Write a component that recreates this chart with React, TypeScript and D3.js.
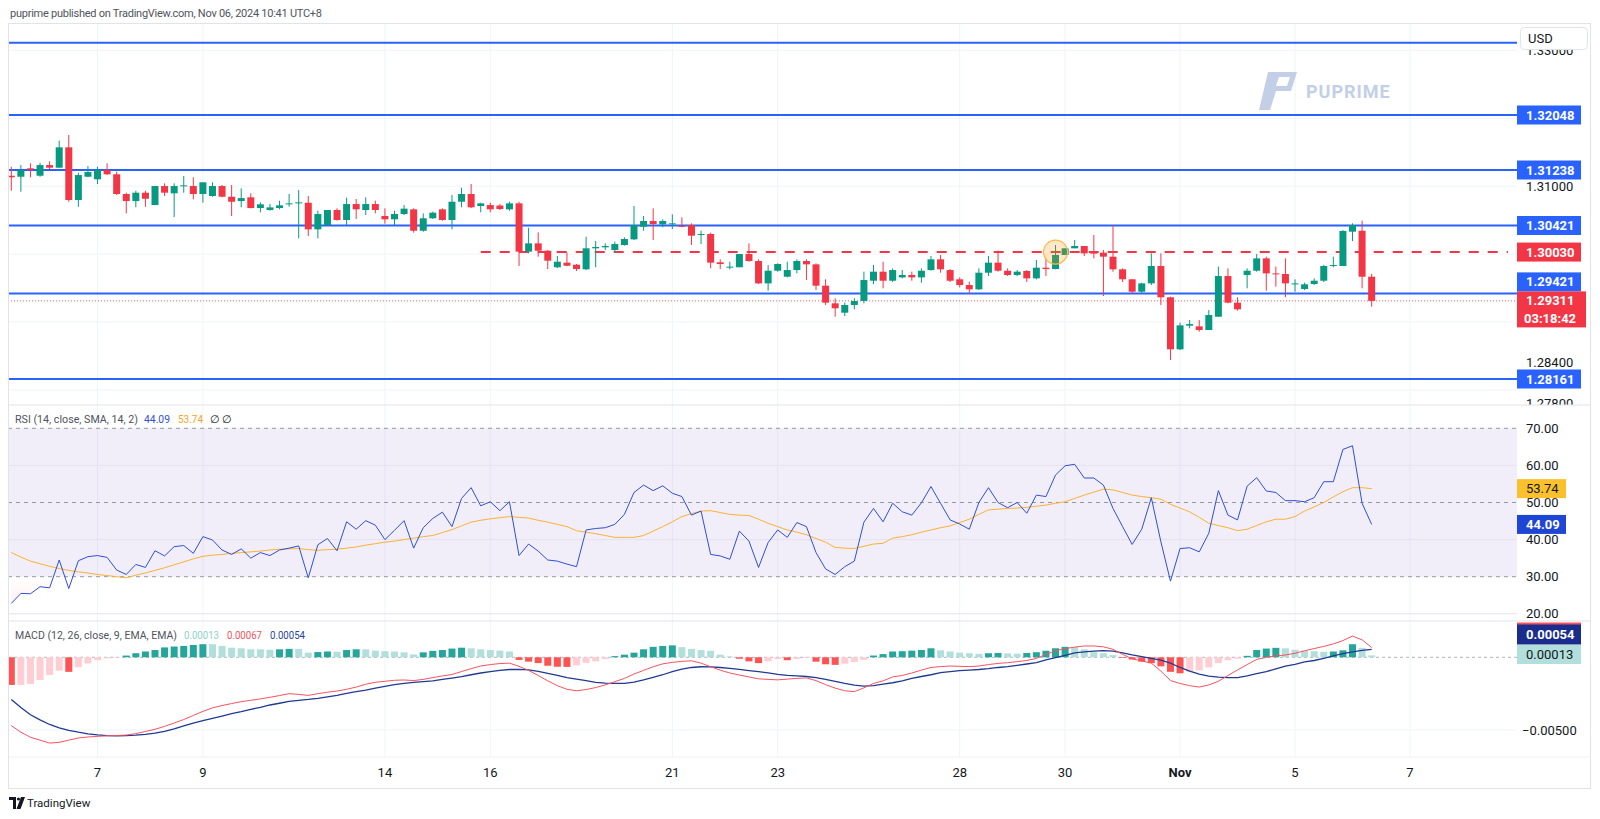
import React from "react";
import * as d3 from "d3";

// time axis (candle index of the first 4h bar of each labelled day)
const tickIdx = [9, 20, 39, 50, 69, 80, 99, 110, 122, 134, 146];
const tickLabels = ["7", "9", "14", "16", "21", "23", "28", "30", "Nov", "5", "7"];

// GBPUSD 4h candles
const open = [1.31154,1.31139,1.31263,1.31154,1.31311,1.31272,1.31572,1.30796,1.31139,1.31101,1.31238,1.31175,1.30885,1.30781,1.30904,1.30722,1.31002,1.30895,1.31002,1.31002,1.30885,1.30855,1.31002,1.30845,1.30781,1.30836,1.30678,1.30649,1.30678,1.30733,1.30747,1.30756,1.30364,1.30428,1.30649,1.30502,1.30737,1.30649,1.30737,1.30561,1.30512,1.3059,1.30659,1.30344,1.30527,1.30659,1.30502,1.30771,1.30885,1.30708,1.30722,1.30715,1.30659,1.30747,1.30036,1.30158,1.3005,1.29806,1.29874,1.29844,1.29776,1.30085,1.301,1.3006,1.30134,1.30217,1.30403,1.30487,1.30438,1.30438,1.30418,1.30428,1.30281,1.30296,1.29879,1.298,1.29806,1.30001,1.29898,1.29569,1.29755,1.29667,1.29765,1.29898,1.29849,1.29535,1.29275,1.29137,1.29251,1.2931,1.29608,1.29741,1.29608,1.29657,1.29692,1.29657,1.29765,1.29923,1.29765,1.29629,1.29545,1.29481,1.29726,1.29874,1.29755,1.29692,1.29751,1.29643,1.298,1.2978,1.29987,1.30085,1.30119,1.30021,1.30021,1.29962,1.29776,1.29629,1.29446,1.29569,1.29825,1.29364,1.28598,1.28946,1.28936,1.28882,1.29078,1.29677,1.29285,1.29692,1.29755,1.29937,1.29716,1.29707,1.29555,1.29486,1.2956,1.29608,1.29825,1.29825,1.3033,1.30344,1.29667];
const high = [1.31286,1.31311,1.31336,1.31345,1.31366,1.3167,1.31753,1.31198,1.31296,1.31286,1.31336,1.31213,1.30904,1.30933,1.30933,1.31002,1.31042,1.31042,1.31149,1.31131,1.31057,1.31057,1.31017,1.31017,1.30968,1.30895,1.30762,1.30737,1.30786,1.30885,1.30943,1.30855,1.30639,1.30649,1.30674,1.3083,1.30811,1.30836,1.30786,1.30674,1.30639,1.30722,1.30674,1.306,1.30625,1.30674,1.3087,1.30978,1.31032,1.30756,1.30756,1.30737,1.30771,1.30771,1.30389,1.3032,1.3006,1.29972,1.30021,1.29854,1.30256,1.30193,1.30158,1.30183,1.30247,1.30708,1.30561,1.30674,1.30512,1.30585,1.30541,1.30453,1.30344,1.30315,1.29923,1.29888,1.30001,1.30158,1.29923,1.29839,1.29864,1.29888,1.29923,1.29923,1.29864,1.29629,1.29349,1.29285,1.29349,1.29741,1.29839,1.29888,1.2979,1.29765,1.29741,1.2979,1.29972,1.29987,1.2978,1.29657,1.29594,1.2979,1.29972,1.3005,1.2979,1.29765,1.29765,1.29913,1.29937,1.30134,1.30085,1.30207,1.30119,1.30281,1.3006,1.30428,1.2979,1.29629,1.29579,1.30011,1.30011,1.29373,1.2899,1.29029,1.29029,1.29176,1.29815,1.2979,1.29364,1.2979,1.30001,1.29962,1.29815,1.29937,1.29629,1.29579,1.29643,1.29839,1.29962,1.30354,1.30453,1.30492,1.29707];
const low = [1.30933,1.30918,1.31131,1.31139,1.31248,1.31272,1.30771,1.30697,1.31131,1.31032,1.31164,1.3087,1.306,1.30689,1.30697,1.30722,1.30855,1.30546,1.30904,1.30806,1.30756,1.30845,1.30836,1.30561,1.30689,1.30674,1.30615,1.30639,1.30659,1.30697,1.30232,1.30266,1.30232,1.30428,1.30492,1.30428,1.30517,1.30575,1.306,1.30448,1.30428,1.30575,1.30315,1.30329,1.30517,1.30492,1.30364,1.30689,1.30678,1.30615,1.30615,1.30649,1.30639,1.29825,1.30012,1.29962,1.2978,1.29795,1.2982,1.29751,1.29765,1.29806,1.3006,1.30021,1.30124,1.30207,1.30344,1.30207,1.30394,1.30369,1.30394,1.30134,1.30148,1.2979,1.2978,1.29776,1.29806,1.29888,1.29559,1.29461,1.29741,1.29657,1.29716,1.29618,1.29471,1.29251,1.29078,1.29088,1.29187,1.29275,1.29559,1.29496,1.29589,1.29643,1.29608,1.29579,1.29755,1.29726,1.29589,1.2951,1.29412,1.29471,1.29677,1.29741,1.29677,1.29677,1.29589,1.29629,1.29677,1.29776,1.29987,1.30085,1.29972,1.29937,1.29383,1.29741,1.29589,1.29422,1.29422,1.29545,1.29251,1.28441,1.28588,1.28907,1.28858,1.28882,1.29078,1.29275,1.29167,1.29496,1.29741,1.29461,1.2952,1.29364,1.29446,1.29471,1.29545,1.29589,1.29806,1.29825,1.30193,1.29496,1.29226];
const close = [1.31131,1.31238,1.31238,1.31311,1.31272,1.31572,1.30796,1.31164,1.31208,1.31238,1.31175,1.30885,1.30781,1.30904,1.30815,1.31002,1.30904,1.31002,1.31012,1.30885,1.31057,1.31002,1.30845,1.30771,1.30825,1.30678,1.30733,1.30688,1.30718,1.30747,1.30762,1.30364,1.3059,1.30649,1.30502,1.30737,1.30659,1.30737,1.30649,1.30512,1.3059,1.30669,1.30344,1.30527,1.3061,1.30502,1.30771,1.30885,1.30689,1.30747,1.30659,1.30664,1.30747,1.30036,1.30158,1.3005,1.29903,1.29888,1.29829,1.2978,1.30085,1.30105,1.30119,1.30148,1.30222,1.30428,1.30487,1.30443,1.30487,1.30453,1.30403,1.30271,1.30296,1.29874,1.29854,1.29815,1.30001,1.29898,1.29569,1.29755,1.29854,1.29765,1.29898,1.29849,1.29535,1.29285,1.29202,1.29251,1.2931,1.29618,1.29741,1.29608,1.29765,1.29692,1.29657,1.29755,1.29923,1.29776,1.29608,1.29545,1.29481,1.29726,1.29874,1.29755,1.29692,1.29741,1.29643,1.298,1.2978,1.29987,1.30085,1.30119,1.30011,1.30011,1.29962,1.29776,1.29629,1.29446,1.29569,1.29825,1.29364,1.28598,1.28951,1.2897,1.28882,1.29103,1.29677,1.29285,1.29187,1.29755,1.29937,1.29716,1.29702,1.29569,1.29569,1.29555,1.29608,1.29825,1.29839,1.3034,1.30428,1.29667,1.29311];

// RSI(14) and its SMA(14)
const rsi = [22.8,25.5,25.4,27.3,27.0,34.5,26.8,34.3,35.4,35.7,35.2,31.8,30.6,33.3,32.5,37.0,35.6,38.1,38.4,36.3,40.8,39.9,37.2,36.0,37.5,35.0,36.5,35.7,37.2,37.7,38.3,29.7,38.6,40.3,37.0,44.8,42.8,45.1,43.9,40.0,42.5,45.1,37.7,43.2,45.7,47.4,43.5,51.1,54.0,49.1,50.2,47.8,50.2,35.7,38.8,36.9,34.5,34.2,33.4,32.7,42.6,43.0,43.2,44.1,46.8,52.7,54.7,53.2,54.5,52.5,51.6,46.6,47.7,36.0,35.6,34.7,42.3,39.6,32.5,39.2,42.6,40.6,44.6,43.5,36.5,32.1,30.6,32.7,34.2,44.7,48.4,44.8,49.8,47.5,46.6,49.9,54.3,49.8,45.3,44.2,42.8,50.0,54.0,50.0,48.6,50.0,47.1,52.0,51.6,57.4,59.9,60.3,56.6,56.6,54.7,48.4,43.5,38.7,42.8,51.3,39.4,28.8,37.6,37.8,36.7,41.7,53.2,46.6,45.3,54.4,56.7,53.1,52.7,50.5,50.5,50.2,51.3,55.6,55.6,64.3,65.3,49.8,44.09];
const rsiMa = [36.5,35.3,34.2,33.5,32.8,32.2,31.7,31.3,31.0,30.6,30.3,30.0,29.7,30.4,31.0,31.7,32.4,33.2,34.0,34.8,35.5,35.8,36.0,36.3,36.5,36.7,36.9,37.2,37.4,37.5,37.6,37.3,37.1,37.3,37.4,37.7,38.0,38.5,38.9,39.3,39.6,40.0,40.4,40.8,41.1,41.9,42.7,43.7,44.7,45.2,45.6,45.9,46.2,46.0,45.8,45.2,44.7,44.1,43.5,42.4,42.0,41.6,41.1,40.6,40.6,40.6,41.1,42.3,43.5,44.8,46.2,47.0,47.7,47.8,47.3,46.8,46.6,46.5,45.5,44.4,43.5,42.6,42.0,41.3,40.3,39.3,37.9,37.7,37.6,38.2,38.8,39.0,40.4,40.8,41.3,42.0,42.6,43.2,43.7,44.6,45.5,46.8,48.0,48.2,48.4,48.5,48.7,49.0,49.3,49.8,50.2,51.1,52.0,52.8,53.6,53.4,52.7,52.0,51.6,51.3,50.9,49.5,48.5,47.5,46.0,44.4,43.8,43.2,42.4,42.8,43.8,44.8,45.5,45.5,46.2,47.7,48.8,50.0,51.5,52.9,54.0,54.0,53.74];

// MACD(12, 26, 9)
const macd = [-0.0047,-0.00515,-0.0055,-0.0057,-0.0059,-0.00585,-0.0057,-0.00555,-0.00548,-0.00544,-0.0054,-0.00538,-0.00535,-0.00525,-0.0051,-0.00495,-0.00475,-0.00452,-0.00428,-0.004,-0.00372,-0.00348,-0.00332,-0.00318,-0.00305,-0.00296,-0.00286,-0.00275,-0.00263,-0.0025,-0.00255,-0.00262,-0.0025,-0.0024,-0.00232,-0.0022,-0.00205,-0.00185,-0.00172,-0.00165,-0.00158,-0.00156,-0.0016,-0.00152,-0.0014,-0.00128,-0.00118,-0.00098,-0.00078,-0.0006,-0.0005,-0.00043,-0.0004,-0.00062,-0.0009,-0.00125,-0.00162,-0.00195,-0.0022,-0.0023,-0.00222,-0.00208,-0.0019,-0.00168,-0.00145,-0.00115,-0.0009,-0.00065,-0.00045,-0.00035,-0.00028,-0.00024,-0.0004,-0.00065,-0.00088,-0.00108,-0.00122,-0.00135,-0.00148,-0.00152,-0.00155,-0.0015,-0.00145,-0.00142,-0.0016,-0.00188,-0.00212,-0.0023,-0.00236,-0.0021,-0.0018,-0.00162,-0.00135,-0.00125,-0.00108,-0.00088,-0.0007,-0.00064,-0.0006,-0.00062,-0.00064,-0.0006,-0.0005,-0.00042,-0.00037,-0.0003,-0.00022,-0.00008,0.0002,0.00045,0.0006,0.0007,0.00078,0.00078,0.00072,0.00055,0.0002,-0.0001,-0.00025,-0.0004,-0.00095,-0.0016,-0.0018,-0.00195,-0.00205,-0.0019,-0.00165,-0.00125,-0.00087,-0.0005,-0.00015,0.0,0.0001,0.00016,0.00028,0.00045,0.0006,0.00075,0.00092,0.00115,0.00146,0.0012,0.00067];
const signal = [-0.0029,-0.00345,-0.00395,-0.0043,-0.00462,-0.00485,-0.00502,-0.00515,-0.00526,-0.00533,-0.00538,-0.0054,-0.00538,-0.00535,-0.0053,-0.00522,-0.0051,-0.00493,-0.00472,-0.00452,-0.00435,-0.0042,-0.00404,-0.00388,-0.00374,-0.00358,-0.00344,-0.00328,-0.00316,-0.00303,-0.00296,-0.0029,-0.00282,-0.00272,-0.00262,-0.00248,-0.00236,-0.00226,-0.00212,-0.002,-0.00188,-0.00179,-0.00173,-0.00167,-0.00162,-0.00152,-0.00143,-0.00133,-0.0012,-0.00108,-0.00098,-0.0009,-0.00084,-0.00083,-0.00087,-0.00097,-0.0011,-0.00125,-0.0014,-0.0015,-0.0016,-0.00172,-0.00177,-0.0018,-0.0018,-0.0017,-0.00155,-0.00138,-0.0012,-0.00098,-0.00082,-0.0007,-0.00065,-0.00066,-0.0007,-0.00076,-0.00083,-0.00091,-0.00099,-0.00107,-0.00117,-0.00124,-0.00128,-0.00132,-0.0014,-0.00152,-0.00166,-0.0018,-0.00192,-0.00198,-0.00195,-0.00184,-0.00175,-0.00162,-0.00145,-0.00132,-0.0012,-0.00106,-0.00098,-0.00092,-0.00088,-0.00084,-0.00078,-0.0007,-0.00064,-0.00055,-0.00046,-0.00036,-0.00018,-0.00002,0.00014,0.0003,0.00038,0.00043,0.00046,0.00042,0.0003,0.00016,0.00005,-0.00007,-0.00019,-0.0004,-0.0007,-0.00095,-0.00115,-0.0013,-0.00137,-0.0014,-0.0014,-0.00128,-0.00112,-0.00099,-0.0008,-0.0006,-0.00048,-0.00032,-0.00022,-0.00008,0.0001,0.00025,0.00038,0.00048,0.00054];
const hist = [-0.0019,-0.0019,-0.00183,-0.00156,-0.00121,-0.00092,-0.001,-0.00068,-0.00042,-0.0002,-0.00008,-0.00004,0.00012,0.00028,0.0004,0.0005,0.00068,0.00074,0.00078,0.00085,0.0009,0.0009,0.00078,0.00066,0.00062,0.00055,0.00055,0.00052,0.00055,0.00058,0.00058,0.00032,0.00036,0.0004,0.00038,0.0005,0.00055,0.00055,0.00046,0.00042,0.0004,0.00034,0.0002,0.00034,0.00044,0.0005,0.0006,0.00066,0.00062,0.00055,0.0005,0.00046,0.0004,-0.00018,-0.0003,-0.0004,-0.00058,-0.00065,-0.00066,-0.00055,-0.00038,-0.00028,-0.00012,0.00008,0.00018,0.00032,0.00055,0.00072,0.00078,0.00082,0.0007,0.00058,0.0005,0.00045,0.00018,0.00006,-0.0001,-0.00028,-0.0004,-0.00028,-0.00012,-0.0002,-0.00012,-0.00005,-0.0003,-0.00048,-0.00052,-0.00044,-0.00032,-0.00018,0.00012,0.00022,0.0004,0.00042,0.00046,0.0005,0.00062,0.00048,0.0004,0.00032,0.00028,0.00024,0.00028,0.0003,0.00027,0.00025,0.0003,0.00035,0.00045,0.00062,0.00072,0.0007,0.00055,0.00035,0.00028,0.00015,-0.00005,-0.00015,-0.0003,-0.0004,-0.00062,-0.001,-0.0011,-0.001,-0.0009,-0.0007,-0.0004,-0.0002,-0.0001,0.0001,0.0005,0.0006,0.00065,0.00062,0.00052,0.00045,0.00042,0.00038,0.0004,0.00048,0.0009,0.00065,0.00013];

// drawn levels
const levelLines = [1.3311, 1.32048, 1.31238, 1.30421, 1.29421, 1.28161];
const levelLabels = [1.32048, 1.31238, 1.30421, 1.29421, 1.28161];
const pivotLevel = 1.3003;
const pivotStart = 49;
const markerIdx = 109;
const priceTicks = [1.33, 1.31, 1.284, 1.278];
const priceGrid = [1.33, 1.32, 1.31, 1.3, 1.29, 1.28];
const rsiBands = [70, 50, 30];
const rsiGrid = [60, 40, 20];
const rsiTicks = [70, 60, 50, 40, 30, 20];

const UP = "#089981";
const DOWN = "#f23645";
const BLUE = "#2962ff";
const GRID = "#f0f3fa";
const BORDER = "#e0e3eb";
const TXT = "#131722";
const LEG = "#50535e";

const L = 8, R = 1517, AX = 1590;
const P_TOP = 23, P_BOT = 405, R_BOT = 621, M_BOT = 757;

export default function App() {
  const n = close.length;
  const x = d3.scaleLinear().domain([0, 146]).range([11.3, 11.3 + 9.58 * 146]);
  const yP = d3.scaleLinear().domain([1.28161, 1.32048]).range([379, 115]);
  const yR = d3.scaleLinear().domain([30, 70]).range([576.7, 428.3]);
  const yM = d3.scaleLinear().domain([-0.005, 0]).range([730, 657.3]);
  const f5 = d3.format(".5f");
  const f2 = d3.format(".2f");
  const bw = 7;

  const rsiLine = d3.line<number>().x((_, i) => x(i)).y((d) => yR(d));
  const osArea = d3
    .area<number>()
    .x((_, i) => x(i))
    .y0(yR(30))
    .y1((d) => yR(Math.min(d, 30)));
  const mLine = d3.line<number>().x((_, i) => x(i)).y((d) => yM(d));

  const last = close[n - 1];
  const curY = yP(last);
  const curTop = curY - 9.5;

  const histColor = (i: number) => {
    const v = hist[i];
    const p = i > 0 ? hist[i - 1] : v;
    if (v >= 0) return v > p ? "#26a69a" : "#b2dfdb";
    return v < p || i === 0 ? "#ff5252" : "#ffcdd2";
  };

  return (
    <svg
      width={1600}
      height={819}
      style={{ position: "absolute", left: 0, top: 0, background: "#fff" }}
      fontFamily="Roboto, 'Noto Sans', sans-serif"
    >
      <defs>
        <clipPath id="cp">
          <rect x={L} y={P_TOP} width={R - L} height={P_BOT - P_TOP} />
        </clipPath>
        <clipPath id="cr">
          <rect x={L} y={P_BOT} width={R - L} height={R_BOT - P_BOT} />
        </clipPath>
        <clipPath id="cm">
          <rect x={L} y={R_BOT} width={R - L} height={M_BOT - R_BOT} />
        </clipPath>
        <clipPath id="cax">
          <rect x={R} y={P_TOP} width={AX - R} height={P_BOT - P_TOP} />
        </clipPath>
        <linearGradient id="os" gradientUnits="userSpaceOnUse" x1="0" x2="0" y1={yR(30)} y2={yR(0)}>
          <stop offset="0" stopColor="#f23645" stopOpacity={0} />
          <stop offset="1" stopColor="#f23645" stopOpacity={0.9} />
        </linearGradient>
      </defs>

      <text x={10} y={17} fontSize={11} fill={LEG} textLength={312} lengthAdjust="spacing">
        puprime published on TradingView.com, Nov 06, 2024 10:41 UTC+8
      </text>

      {/* grid */}
      {tickIdx.map((t) => (
        <line key={"vg" + t} x1={x(t)} x2={x(t)} y1={P_TOP} y2={M_BOT} stroke={GRID} />
      ))}
      {priceGrid.map((p) => (
        <line key={"pg" + p} x1={L} x2={R} y1={yP(p)} y2={yP(p)} stroke={GRID} />
      ))}

      {/* watermark */}
      <g fill="#c3cfe6">
        <path d="M1268,72 L1297,72 L1291,91 L1276,91 L1270,110 L1259,110 Z" />
        <path d="M1279,77 L1290,77 L1287,86 L1276,86 Z" fill="#fff" />
        <text x={1306} y={98} fontSize={18} fontWeight={700} letterSpacing={1}>
          PUPRIME
        </text>
      </g>

      {/* price pane */}
      <g clipPath="url(#cp)">
        {levelLines.map((p) => (
          <line key={"lv" + p} x1={L} x2={R} y1={yP(p)} y2={yP(p)} stroke={BLUE} strokeWidth={2} />
        ))}
        <line
          x1={x(pivotStart)}
          x2={1508}
          y1={yP(pivotLevel)}
          y2={yP(pivotLevel)}
          stroke={DOWN}
          strokeWidth={2}
          strokeDasharray="10 9"
        />
        <line x1={L} x2={R} y1={curY} y2={curY} stroke={DOWN} strokeWidth={1} strokeDasharray="1 2" opacity={0.8} />
        {close.map((c, i) => {
          const o = open[i];
          const col = c >= o ? UP : DOWN;
          const top = yP(Math.max(o, c));
          const h = Math.max(1, yP(Math.min(o, c)) - top);
          return (
            <g key={"c" + i} fill={col} stroke={col}>
              <line x1={x(i)} x2={x(i)} y1={yP(high[i])} y2={yP(low[i])} strokeWidth={1} />
              <rect x={x(i) - bw / 2} y={top} width={bw} height={h} stroke="none" />
            </g>
          );
        })}
        <circle cx={x(markerIdx)} cy={yP(pivotLevel)} r={12} fill="rgba(255,152,0,0.22)" stroke="#ffb74d" strokeWidth={1.2} />
      </g>

      {/* price axis */}
      <g clipPath="url(#cax)" fontSize={13}>
        {priceTicks.map((p) => (
          <text key={"pt" + p} x={1526} y={yP(p)} dy="0.35em" fill={TXT}>
            {f5(p)}
          </text>
        ))}
        {levelLabels.map((p) => {
          let cy = yP(p);
          if (cy + 9.5 > curTop && cy - 9.5 < curTop + 36) cy = curTop - 9.5;
          return (
            <g key={"ll" + p}>
              <rect x={R} y={cy - 9.5} width={64} height={19} fill={BLUE} />
              <text x={1526} y={cy} dy="0.35em" fill="#fff" fontWeight={700}>
                {f5(p)}
              </text>
            </g>
          );
        })}
        <rect x={R} y={yP(pivotLevel) - 9.5} width={64} height={19} fill={DOWN} />
        <text x={1526} y={yP(pivotLevel)} dy="0.35em" fill="#fff" fontWeight={700}>
          {f5(pivotLevel)}
        </text>
        <rect x={R} y={curTop} width={69} height={36} fill={DOWN} />
        <text x={1526} y={curY} dy="0.35em" fill="#fff" fontWeight={700}>
          {f5(last)}
        </text>
        <text x={1524} y={curY + 17.5} dy="0.35em" fill="#fff" fontWeight={700}>
          03:18:42
        </text>
      </g>
      <rect x={1520.5} y={27.5} width={67} height={22} rx={4} fill="#fff" stroke={BORDER} />
      <text x={1528} y={38.5} dy="0.35em" fontSize={13} fill={TXT}>
        USD
      </text>

      {/* RSI pane */}
      <g clipPath="url(#cr)">
        <rect x={L} y={yR(70)} width={R - L} height={yR(30) - yR(70)} fill="rgba(126,87,194,0.1)" />
        {rsiGrid.map((v) => (
          <line key={"rg" + v} x1={L} x2={R} y1={yR(v)} y2={yR(v)} stroke="#e4e2ee" />
        ))}
        {rsiBands.map((v) => (
          <line key={"rb" + v} x1={L} x2={R} y1={yR(v)} y2={yR(v)} stroke="#9598a1" strokeDasharray="4 4" />
        ))}
        <path d={osArea(rsi) || ""} fill="url(#os)" opacity={0.35} />
        <path d={rsiLine(rsiMa) || ""} fill="none" stroke="#f9b233" strokeWidth={1} />
        <path d={rsiLine(rsi) || ""} fill="none" stroke="#2f4fd6" strokeWidth={1} />
      </g>
      <g fontSize={11}>
        <text x={15} y={419} dy="0.35em" fill={LEG} textLength={123} lengthAdjust="spacingAndGlyphs">
          RSI (14, close, SMA, 14, 2)
        </text>
        <text x={144} y={419} dy="0.35em" fill="#3452d4" textLength={26} lengthAdjust="spacingAndGlyphs">
          {f2(rsi[n - 1])}
        </text>
        <text x={178} y={419} dy="0.35em" fill="#f5a623" textLength={25} lengthAdjust="spacingAndGlyphs">
          {f2(rsiMa[n - 1])}
        </text>
        <text x={210} y={419} dy="0.35em" fill={TXT}>∅</text>
        <text x={222} y={419} dy="0.35em" fill={TXT}>∅</text>
      </g>
      <g fontSize={13}>
        {rsiTicks.map((v) => (
          <text key={"rt" + v} x={1526} y={yR(v)} dy="0.35em" fill={TXT}>
            {f2(v)}
          </text>
        ))}
        <rect x={R} y={yR(rsiMa[n - 1]) - 9.5} width={49} height={19} fill="#fbc02d" />
        <text x={1526} y={yR(rsiMa[n - 1])} dy="0.35em" fill={TXT}>
          {f2(rsiMa[n - 1])}
        </text>
        <rect x={R} y={yR(rsi[n - 1]) - 9.5} width={49} height={19} fill="#1f45d6" />
        <text x={1526} y={yR(rsi[n - 1])} dy="0.35em" fill="#fff" fontWeight={700}>
          {f2(rsi[n - 1])}
        </text>
      </g>

      {/* MACD pane */}
      <g clipPath="url(#cm)">
        <line x1={L} x2={R} y1={yM(-0.005)} y2={yM(-0.005)} stroke={GRID} />
        <line x1={L} x2={R} y1={yM(0)} y2={yM(0)} stroke="#b2b5be" strokeDasharray="3 3" />
        {hist.map((v, i) => (
          <rect
            key={"h" + i}
            x={x(i) - 3.5}
            width={7}
            y={Math.min(yM(v), yM(0))}
            height={Math.max(0.5, Math.abs(yM(v) - yM(0)))}
            fill={histColor(i)}
          />
        ))}
        <path d={mLine(signal) || ""} fill="none" stroke="#1f3a93" strokeWidth={1.3} />
        <path d={mLine(macd) || ""} fill="none" stroke="#f7525f" strokeWidth={1} />
      </g>
      <g fontSize={11}>
        <text x={15} y={635} dy="0.35em" fill={LEG} textLength={162} lengthAdjust="spacingAndGlyphs">
          MACD (12, 26, close, 9, EMA, EMA)
        </text>
        <text x={184} y={635} dy="0.35em" fill="#8fd3cb" textLength={35} lengthAdjust="spacingAndGlyphs">
          {f5(hist[n - 1])}
        </text>
        <text x={227} y={635} dy="0.35em" fill="#f7525f" textLength={35} lengthAdjust="spacingAndGlyphs">
          {f5(macd[n - 1])}
        </text>
        <text x={270} y={635} dy="0.35em" fill="#2a3fa0" textLength={35} lengthAdjust="spacingAndGlyphs">
          {f5(signal[n - 1])}
        </text>
      </g>
      <g fontSize={13}>
        <text x={1522} y={yM(-0.005)} dy="0.35em" fill={TXT}>
          −0.00500
        </text>
        <rect x={R} y={622.5} width={64} height={20} fill="#f7525f" />
        <rect x={R} y={624.5} width={64} height={20} fill="#1a2c8c" />
        <text x={1526} y={634.5} dy="0.35em" fill="#fff" fontWeight={700}>
          {f5(signal[n - 1])}
        </text>
        <rect x={R} y={645} width={64} height={19} fill="#b2dfdb" />
        <text x={1526} y={654.5} dy="0.35em" fill={TXT}>
          {f5(hist[n - 1])}
        </text>
      </g>

      {/* separators and frame */}
      <line x1={L} x2={AX} y1={P_BOT} y2={P_BOT} stroke={BORDER} />
      <line x1={L} x2={AX} y1={R_BOT} y2={R_BOT} stroke={BORDER} />
      <line x1={L} x2={AX} y1={M_BOT} y2={M_BOT} stroke="#eef0f5" />
      <rect x={L + 0.5} y={P_TOP + 0.5} width={AX - L} height={788 - P_TOP} fill="none" stroke={BORDER} />

      {/* time axis */}
      <g fontSize={13} fill={TXT} textAnchor="middle">
        {tickIdx.map((t, i) => (
          <text key={"tl" + t} x={x(t)} y={772} dy="0.35em" fontWeight={tickLabels[i] === "Nov" ? 700 : 400}>
            {tickLabels[i]}
          </text>
        ))}
      </g>

      {/* TradingView logo */}
      <g fill={TXT}>
        <path d="M9,797 L16,797 L16,809 L13,809 L13,800 L9,800 Z" />
        <circle cx={18.5} cy={799} r={1.6} />
        <path d="M21,797 L25,797 L20.5,809 L16.5,809 Z" />
        <text x={27} y={803} dy="0.35em" fontSize={11.5}>
          TradingView
        </text>
      </g>
    </svg>
  );
}
